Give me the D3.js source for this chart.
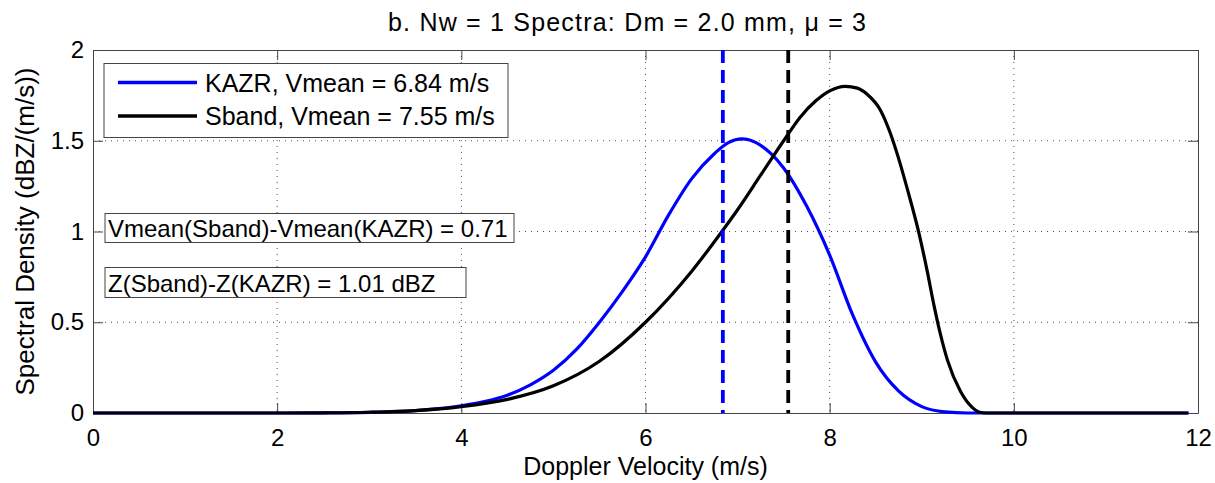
<!DOCTYPE html>
<html><head><meta charset="utf-8">
<script src="https://cdn.jsdelivr.net/npm/d3@7"></script>
<style>
body{margin:0;background:#fff;}
svg text{font-family:"Liberation Sans",Arial,sans-serif;fill:#000;}
</style></head>
<body><svg id="c" width="1215" height="483"></svg>
<script>
const title = "b. Nw = 1 Spectra: Dm = 2.0 mm, \u03bc = 3";
const xLabel = "Doppler Velocity (m/s)";
const yLabel = "Spectral Density (dBZ/(m/s))";
const xTicks = [0,2,4,6,8,10,12];
const yTicks = [0,0.5,1,1.5,2];
const seriesNames = ["KAZR, Vmean = 6.84 m/s","Sband, Vmean = 7.55 m/s"];
const seriesColors = ["#0000ff","#000000"];
const kazrV = [0,1,2,2.5,3,3.25,3.5,3.75,4,4.25,4.5,4.75,5,5.25,5.5,5.75,6,6.25,6.5,6.75,6.9,7.05,7.2,7.36,7.5,7.75,8,8.25,8.5,8.75,9,9.25,9.5,10,11,11.9];
const kazrS = [0,0,0,0.0005,0.003,0.007,0.013,0.024,0.04,0.063,0.098,0.155,0.235,0.35,0.5,0.67,0.86,1.09,1.29,1.43,1.49,1.51,1.49,1.43,1.35,1.14,0.87,0.54,0.28,0.12,0.035,0.006,0,0,0,0];
const sbandV = [0,1,2,2.5,3,3.5,4,4.5,5,5.5,6,6.5,6.83,7,7.25,7.5,7.68,7.85,8,8.17,8.3,8.41,8.55,8.66,8.75,8.84,8.97,9.06,9.13,9.2,9.28,9.42,9.55,9.62,9.7,10,11,11.89];
const sbandS = [0,0,0,0.001,0.004,0.013,0.035,0.075,0.15,0.285,0.5,0.78,1.0,1.12,1.31,1.5,1.63,1.72,1.775,1.80,1.79,1.755,1.67,1.54,1.4,1.24,0.99,0.78,0.6,0.44,0.29,0.12,0.03,0.006,0,0,0,0];
const vmeans = [6.84, 7.55];
const notes = ["Vmean(Sband)-Vmean(KAZR) = 0.71","Z(Sband)-Z(KAZR) = 1.01 dBZ"];

const svg = d3.select("#c");
const L=93, R=1198, T=50, B=413;
const x = d3.scaleLinear().domain([0,12]).range([L,R]);
const y = d3.scaleLinear().domain([0,2]).range([B,T]);
const axisCol = "#444";

// grid
const g = svg.append("g");
g.selectAll(".gx").data(xTicks.filter(d=>d>0&&d<12)).enter().append("line")
 .attr("x1",d=>x(d)).attr("x2",d=>x(d)).attr("y1",T).attr("y2",B)
 .attr("stroke","#555").attr("stroke-width",1).attr("stroke-dasharray","1,5");
g.selectAll(".gy").data(yTicks.filter(d=>d>0&&d<2)).enter().append("line")
 .attr("y1",d=>y(d)).attr("y2",d=>y(d)).attr("x1",L).attr("x2",R)
 .attr("stroke","#555").attr("stroke-width",1).attr("stroke-dasharray","1,5");

// axes
const xa = svg.append("g").attr("transform",`translate(0,${B})`)
 .call(d3.axisBottom(x).tickValues(xTicks).tickFormat(d3.format("d")).tickSizeInner(-10).tickSizeOuter(0).tickPadding(16));
const xt = svg.append("g").attr("transform",`translate(0,${T})`)
 .call(d3.axisTop(x).tickValues(xTicks).tickFormat("").tickSizeInner(-10).tickSizeOuter(0));
const ya = svg.append("g").attr("transform",`translate(${L},0)`)
 .call(d3.axisLeft(y).tickValues(yTicks).tickFormat(d=>d3.format("")(d)).tickSizeInner(-10).tickSizeOuter(0).tickPadding(9));
const yr = svg.append("g").attr("transform",`translate(${R},0)`)
 .call(d3.axisRight(y).tickValues(yTicks).tickFormat("").tickSizeInner(-10).tickSizeOuter(0));
[xa,xt,ya,yr].forEach(a=>{a.select(".domain").attr("stroke",axisCol);a.selectAll(".tick line").attr("stroke",axisCol);
 a.selectAll("text").style("font-size","24px").attr("fill","#000");});

// curves
const line = d3.line().x(d=>x(d[0])).y(d=>y(d[1])).curve(d3.curveMonotoneX);
const series = [d3.zip(kazrV,kazrS), d3.zip(sbandV,sbandS)];
series.forEach((s,i)=>{
 svg.append("path").datum(s).attr("d",line).attr("fill","none")
  .attr("stroke",seriesColors[i]).attr("stroke-width",3.2).attr("stroke-linejoin","round");
});
// vmean lines
vmeans.forEach((v,i)=>{
 svg.append("line").attr("x1",x(v)).attr("x2",x(v)).attr("y1",T).attr("y2",B)
  .attr("stroke",seriesColors[i]).attr("stroke-width",3.8).attr("stroke-dasharray","13,7");
});

// legend
const lg = svg.append("g");
lg.append("rect").attr("x",104).attr("y",63.5).attr("width",404).attr("height",74)
 .attr("fill","#fff").attr("stroke",axisCol).attr("stroke-width",1);
seriesNames.forEach((n,i)=>{
 const yy = 82.5 + i*33.5;
 lg.append("line").attr("x1",118).attr("x2",197).attr("y1",yy).attr("y2",yy)
  .attr("stroke",seriesColors[i]).attr("stroke-width",3.5);
 lg.append("text").attr("x",205).attr("y",yy+9).style("font-size","25px").text(n);
});

// notes
const boxes = [{y:213.5,h:29,w:409},{y:267.5,h:30,w:361}];
notes.forEach((t,i)=>{
 svg.append("rect").attr("x",105).attr("y",boxes[i].y).attr("width",boxes[i].w).attr("height",boxes[i].h)
  .attr("fill","#fff").attr("stroke",axisCol).attr("stroke-width",1);
 svg.append("text").attr("x",108).attr("y",boxes[i].y+boxes[i].h/2+9).style("font-size","24px").text(t);
});

// labels
svg.append("text").attr("x",388).attr("y",31).style("font-size","25px")
 .attr("textLength",478).attr("lengthAdjust","spacing").text(title);
svg.append("text").attr("x",(L+R)/2).attr("y",475).attr("text-anchor","middle").style("font-size","25px").text(xLabel);
svg.append("text").attr("transform",`translate(34,${(T+B)/2}) rotate(-90)`).attr("text-anchor","middle").style("font-size","26px").text(yLabel);
</script></body></html>
